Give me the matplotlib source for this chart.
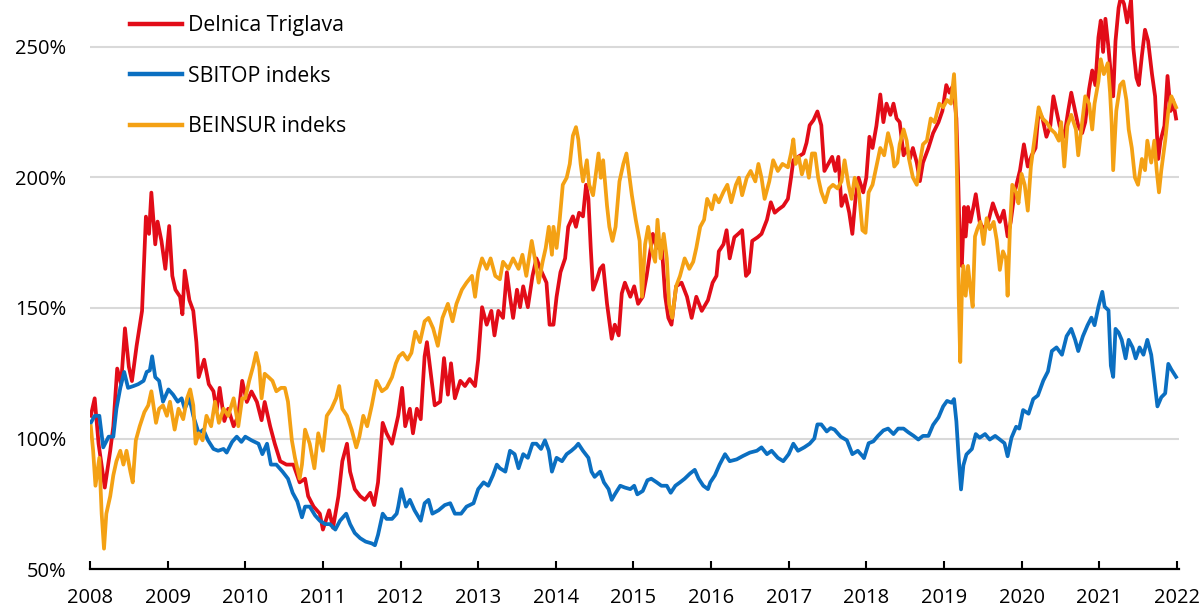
import matplotlib
matplotlib.use("Agg")
import matplotlib.pyplot as plt

plt.rcParams['font.family'] = ['Open Sans', 'DejaVu Sans']

# ---- data (index, 2008 = 100%) ----
labels = ['Delnica Triglava', 'SBITOP indeks', 'BEINSUR indeks']
colors = ['#e20c18', '#0b6fc1', '#f4a114']

red_t = [2008.01, 2008.06, 2008.11, 2008.19, 2008.26, 2008.30, 2008.35, 2008.40, 2008.45, 2008.50,
         2008.54, 2008.60, 2008.67, 2008.72, 2008.76, 2008.79, 2008.84, 2008.87, 2008.92, 2008.97,
         2009.02, 2009.06, 2009.10, 2009.16, 2009.19, 2009.22, 2009.28, 2009.33, 2009.37, 2009.40,
         2009.47, 2009.53, 2009.59, 2009.63, 2009.67, 2009.73, 2009.78, 2009.85, 2009.91, 2009.96,
         2010.02, 2010.08, 2010.15, 2010.21, 2010.25, 2010.32, 2010.38, 2010.45, 2010.53, 2010.62,
         2010.70, 2010.77, 2010.81, 2010.88, 2010.96, 2011.00, 2011.08, 2011.13, 2011.20, 2011.25,
         2011.31, 2011.35, 2011.41, 2011.48, 2011.54, 2011.61, 2011.66, 2011.71, 2011.77, 2011.82,
         2011.89, 2011.95, 2011.97, 2012.02, 2012.06, 2012.12, 2012.16, 2012.21, 2012.26, 2012.31,
         2012.34, 2012.39, 2012.44, 2012.51, 2012.56, 2012.61, 2012.65, 2012.70, 2012.77, 2012.83,
         2012.89, 2012.96, 2013.00, 2013.05, 2013.11, 2013.17, 2013.21, 2013.26, 2013.32, 2013.37,
         2013.41, 2013.45, 2013.50, 2013.54, 2013.58, 2013.64, 2013.70, 2013.75, 2013.82, 2013.88,
         2013.92, 2013.97, 2014.01, 2014.06, 2014.12, 2014.16, 2014.22, 2014.26, 2014.30, 2014.35,
         2014.39, 2014.42, 2014.45, 2014.48, 2014.53, 2014.57, 2014.61, 2014.66, 2014.72, 2014.76,
         2014.81, 2014.85, 2014.89, 2014.96, 2015.01, 2015.06, 2015.12, 2015.17, 2015.21, 2015.25,
         2015.30, 2015.36, 2015.41, 2015.45, 2015.49, 2015.55, 2015.62, 2015.69, 2015.75, 2015.81,
         2015.88, 2015.96, 2016.02, 2016.07, 2016.10, 2016.16, 2016.20, 2016.24, 2016.30, 2016.35,
         2016.40, 2016.45, 2016.49, 2016.53, 2016.60, 2016.65, 2016.72, 2016.77, 2016.82, 2016.87,
         2016.93, 2016.99, 2017.03, 2017.06, 2017.12, 2017.19, 2017.23, 2017.27, 2017.32, 2017.37,
         2017.42, 2017.46, 2017.51, 2017.56, 2017.60, 2017.64, 2017.68, 2017.73, 2017.78, 2017.82,
         2017.86, 2017.90, 2017.96, 2018.00, 2018.04, 2018.08, 2018.13, 2018.18, 2018.22, 2018.26,
         2018.31, 2018.35, 2018.39, 2018.43, 2018.48, 2018.52, 2018.56, 2018.60, 2018.65, 2018.69,
         2018.73, 2018.80, 2018.86, 2018.93, 2018.98, 2019.03, 2019.07, 2019.12, 2019.16, 2019.18,
         2019.21, 2019.23, 2019.26, 2019.28, 2019.31, 2019.34, 2019.38, 2019.41, 2019.46, 2019.51,
         2019.57, 2019.63, 2019.68, 2019.72, 2019.77, 2019.82, 2019.86, 2019.91, 2019.98, 2020.03,
         2020.08, 2020.13, 2020.18, 2020.22, 2020.27, 2020.32, 2020.37, 2020.41, 2020.45, 2020.49,
         2020.55, 2020.60, 2020.64, 2020.68, 2020.73, 2020.78, 2020.82, 2020.87, 2020.91, 2020.95,
         2020.99, 2021.02, 2021.05, 2021.08, 2021.12, 2021.15, 2021.18, 2021.21, 2021.25, 2021.28,
         2021.32, 2021.36, 2021.41, 2021.44, 2021.48, 2021.51, 2021.55, 2021.59, 2021.63, 2021.68,
         2021.72, 2021.76, 2021.79, 2021.84, 2021.88, 2021.92, 2021.95, 2021.99]
red_v = [108.7, 115.4, 98.0, 81.2, 95.3, 104.7, 126.8, 120.8, 142.2, 127.5,
         122.0, 135.5, 148.9, 185.0, 178.4, 194.2, 174.4, 183.1, 175.7, 165.0,
         181.4, 162.3, 157.0, 154.3, 147.6, 164.3, 153.0, 148.9, 136.9, 123.5,
         130.2, 120.8, 118.1, 110.7, 119.4, 106.7, 111.4, 104.7, 108.7, 122.1,
         114.0, 118.0, 114.0, 107.0, 114.0, 104.7, 98.0, 91.3, 90.0, 90.0,
         83.2, 84.6, 77.9, 73.9, 71.2, 65.1, 72.5, 65.8, 77.9, 91.3,
         98.0, 87.3, 80.6, 77.9, 76.5, 79.2, 74.5, 83.2, 106.0, 102.0,
         98.0, 106.0, 108.7, 119.4, 104.7, 111.4, 102.0, 111.4, 107.4, 131.5,
         136.9, 124.8, 112.7, 114.1, 130.8, 116.8, 128.8, 115.4, 122.1, 120.1,
         122.8, 120.1, 130.2, 150.3, 143.6, 148.9, 139.5, 148.9, 146.2, 163.7,
         154.3, 146.2, 157.0, 150.3, 158.3, 150.3, 162.3, 169.0, 163.7, 159.7,
         143.6, 143.6, 154.3, 163.7, 169.0, 181.1, 185.1, 181.1, 186.5, 185.1,
         197.2, 191.8, 173.0, 157.0, 161.0, 165.0, 166.4, 151.6, 138.2, 143.6,
         139.5, 155.6, 159.7, 154.3, 158.3, 151.6, 154.3, 162.3, 170.4, 178.4,
         173.0, 175.7, 154.3, 146.2, 143.6, 158.3, 159.7, 154.3, 146.2, 154.3,
         148.9, 153.0, 159.7, 162.3, 171.7, 174.4, 179.8, 169.0, 177.1, 178.4,
         179.8, 162.3, 163.7, 175.7, 177.1, 178.4, 183.8, 190.5, 186.5, 187.8,
         189.1, 191.8, 199.9, 206.6, 207.9, 209.2, 213.3, 220.0, 222.0, 225.3,
         220.0, 202.5, 205.2, 207.9, 202.5, 207.9, 189.1, 193.2, 186.5, 178.4,
         191.8, 199.9, 194.3, 200.0, 215.6, 211.3, 219.8, 231.8, 221.2, 228.3,
         224.0, 228.3, 222.6, 221.2, 208.5, 211.3, 207.1, 211.3, 205.7, 198.6,
         205.7, 211.3, 217.0, 221.2, 225.5, 235.4, 232.5, 235.4, 222.6, 202.8,
         168.9, 166.1, 188.7, 177.4, 188.7, 183.0, 188.7, 193.6, 183.0, 180.2,
         183.0, 190.1, 185.9, 183.0, 187.3, 177.4, 183.0, 194.3, 202.8, 212.7,
         204.2, 208.5, 211.3, 225.5, 222.6, 215.6, 219.8, 231.1, 225.5, 219.8,
         215.6, 225.5, 232.5, 226.9, 219.8, 217.0, 221.2, 233.9, 241.0, 235.4,
         253.7, 260.1, 248.1, 260.8, 249.5, 239.6, 231.1, 252.3, 265.0, 269.3,
         266.5, 259.4, 268.0, 249.5, 238.2, 235.4, 246.7, 256.6, 252.3, 239.6,
         231.1, 207.1, 214.1, 219.8, 238.9, 225.5, 229.7, 222.6]

blue_t = [2008.01, 2008.06, 2008.12, 2008.17, 2008.24, 2008.30, 2008.34, 2008.39, 2008.44, 2008.49,
          2008.56, 2008.62, 2008.69, 2008.73, 2008.77, 2008.80, 2008.84, 2008.89, 2008.94, 2009.01,
          2009.07, 2009.13, 2009.18, 2009.22, 2009.28, 2009.33, 2009.40, 2009.46, 2009.52, 2009.59,
          2009.65, 2009.72, 2009.76, 2009.83, 2009.89, 2009.95, 2010.00, 2010.08, 2010.17, 2010.22,
          2010.28, 2010.33, 2010.40, 2010.48, 2010.55, 2010.61, 2010.67, 2010.73, 2010.77, 2010.83,
          2010.90, 2010.96, 2011.03, 2011.09, 2011.16, 2011.22, 2011.30, 2011.35, 2011.41, 2011.48,
          2011.55, 2011.63, 2011.67, 2011.71, 2011.77, 2011.82, 2011.89, 2011.95, 2011.97, 2012.01,
          2012.07, 2012.12, 2012.18, 2012.26, 2012.31, 2012.36, 2012.41, 2012.49, 2012.57, 2012.64,
          2012.70, 2012.78, 2012.85, 2012.94, 2013.00, 2013.07, 2013.13, 2013.19, 2013.24, 2013.28,
          2013.35, 2013.41, 2013.47, 2013.52, 2013.58, 2013.64, 2013.70, 2013.75, 2013.81, 2013.86,
          2013.91, 2013.95, 2014.01, 2014.08, 2014.14, 2014.20, 2014.25, 2014.29, 2014.35, 2014.42,
          2014.46, 2014.50, 2014.57, 2014.62, 2014.68, 2014.72, 2014.76, 2014.83, 2014.89, 2014.96,
          2015.01, 2015.05, 2015.12, 2015.18, 2015.23, 2015.30, 2015.36, 2015.43, 2015.48, 2015.54,
          2015.60, 2015.66, 2015.73, 2015.79, 2015.84, 2015.90, 2015.96, 2015.99, 2016.05, 2016.11,
          2016.18, 2016.24, 2016.33, 2016.41, 2016.50, 2016.59, 2016.65, 2016.72, 2016.78, 2016.86,
          2016.93, 2017.00, 2017.06, 2017.12, 2017.20, 2017.27, 2017.33, 2017.37, 2017.42, 2017.49,
          2017.54, 2017.59, 2017.67, 2017.75, 2017.82, 2017.89, 2017.95, 2017.97, 2018.03, 2018.09,
          2018.15, 2018.22, 2018.28, 2018.35, 2018.41, 2018.48, 2018.54, 2018.61, 2018.67, 2018.73,
          2018.80, 2018.86, 2018.93, 2018.99, 2019.04, 2019.10, 2019.13, 2019.16, 2019.19, 2019.22,
          2019.25, 2019.29, 2019.36, 2019.41, 2019.46, 2019.53, 2019.59, 2019.66, 2019.72, 2019.78,
          2019.82, 2019.87, 2019.93, 2019.97, 2020.02, 2020.09, 2020.15, 2020.21, 2020.28, 2020.34,
          2020.39, 2020.45, 2020.52, 2020.58, 2020.64, 2020.69, 2020.73, 2020.79, 2020.85, 2020.90,
          2020.94, 2020.99, 2021.04, 2021.07, 2021.12, 2021.15, 2021.18, 2021.21, 2021.25, 2021.29,
          2021.34, 2021.38, 2021.43, 2021.47, 2021.52, 2021.57, 2021.62, 2021.67, 2021.70, 2021.75,
          2021.80, 2021.85, 2021.89, 2021.93, 2021.99]
blue_v = [106.0, 108.7, 108.7, 96.6, 100.7, 100.7, 111.4, 119.4, 125.5, 119.4,
          120.1, 120.8, 122.1, 125.5, 126.1, 131.5, 123.5, 122.1, 114.1, 118.8,
          116.8, 114.1, 115.4, 111.4, 115.4, 108.7, 102.0, 103.4, 99.3, 96.0,
          95.3, 96.0, 94.6, 98.7, 100.7, 98.7, 100.7, 99.3, 98.0, 94.0,
          98.0, 90.0, 90.0, 87.3, 84.6, 79.2, 75.9, 69.8, 73.9, 73.9,
          70.5, 68.5, 67.2, 67.2, 65.1, 68.5, 71.2, 67.2, 63.8, 61.8,
          60.5, 59.8, 59.1, 63.1, 71.2, 69.2, 69.2, 71.2, 73.9, 80.6,
          73.9, 76.5, 72.5, 68.5, 75.2, 76.5, 71.2, 72.5, 74.5, 75.2,
          71.2, 71.2, 73.9, 75.2, 80.6, 83.2, 81.9, 85.9, 90.0, 88.6,
          87.3, 95.3, 94.0, 88.6, 94.0, 92.6, 98.0, 98.0, 96.0, 99.3,
          95.3, 87.3, 92.6, 91.3, 94.0, 95.3, 96.6, 98.0, 95.3, 92.6,
          87.3, 85.3, 87.3, 83.2, 80.6, 76.5, 78.6, 81.9, 81.2, 80.6,
          81.9, 78.6, 79.9, 84.0, 84.6, 83.2, 81.9, 81.9, 79.2, 81.9,
          83.2, 84.6, 86.6, 88.0, 84.6, 81.9, 80.6, 83.2, 85.9, 90.0,
          94.0, 91.3, 92.0, 93.3, 94.6, 95.3, 96.6, 94.0, 95.3, 92.6,
          91.3, 94.0, 98.0, 95.3, 96.6, 98.0, 100.0, 105.4, 105.4, 102.7,
          104.0, 103.4, 100.7, 99.3, 94.0, 95.3, 93.3, 92.5, 98.2, 98.9,
          101.0, 103.1, 103.8, 101.7, 103.8, 103.8, 102.4, 101.0, 99.6, 101.0,
          101.0, 105.2, 108.1, 112.3, 114.4, 113.7, 115.1, 106.6, 92.5, 80.5,
          89.7, 93.9, 96.0, 101.7, 100.3, 101.7, 99.6, 101.0, 99.6, 98.2,
          93.2, 100.3, 104.5, 103.8, 110.9, 109.5, 115.1, 116.5, 122.2, 125.7,
          133.5, 134.9, 132.1, 139.2, 142.0, 137.8, 133.5, 139.2, 143.4, 146.3,
          143.4, 150.5, 156.2, 150.5, 149.1, 127.9, 123.6, 142.0, 140.6, 137.8,
          130.7, 137.8, 134.9, 130.7, 134.9, 132.1, 137.8, 132.1, 125.0, 112.3,
          115.8, 117.3, 128.6, 126.4, 123.6]

orange_t = [2008.01, 2008.04, 2008.07, 2008.12, 2008.15, 2008.18, 2008.21, 2008.26, 2008.30, 2008.34,
            2008.39, 2008.43, 2008.47, 2008.52, 2008.55, 2008.59, 2008.64, 2008.70, 2008.75, 2008.79,
            2008.85, 2008.89, 2008.94, 2008.99, 2009.03, 2009.09, 2009.14, 2009.20, 2009.25, 2009.29,
            2009.33, 2009.36, 2009.40, 2009.45, 2009.50, 2009.56, 2009.61, 2009.66, 2009.72, 2009.78,
            2009.85, 2009.91, 2009.96, 2010.00, 2010.05, 2010.10, 2010.14, 2010.18, 2010.21, 2010.25,
            2010.30, 2010.35, 2010.40, 2010.46, 2010.51, 2010.55, 2010.60, 2010.64, 2010.70, 2010.73,
            2010.77, 2010.83, 2010.89, 2010.94, 2011.00, 2011.05, 2011.11, 2011.17, 2011.21, 2011.25,
            2011.31, 2011.37, 2011.43, 2011.47, 2011.52, 2011.57, 2011.63, 2011.69, 2011.76, 2011.82,
            2011.89, 2011.94, 2011.98, 2012.03, 2012.09, 2012.14, 2012.19, 2012.25, 2012.31, 2012.36,
            2012.42, 2012.48, 2012.54, 2012.61, 2012.67, 2012.72, 2012.79, 2012.85, 2012.92, 2012.96,
            2013.00, 2013.05, 2013.11, 2013.16, 2013.22, 2013.28, 2013.32, 2013.39, 2013.45, 2013.52,
            2013.57, 2013.62, 2013.69, 2013.73, 2013.78, 2013.83, 2013.87, 2013.91, 2013.95, 2013.97,
            2014.01, 2014.05, 2014.09, 2014.14, 2014.18, 2014.22, 2014.26, 2014.29, 2014.32, 2014.35,
            2014.40, 2014.43, 2014.48, 2014.52, 2014.55, 2014.58, 2014.61, 2014.66, 2014.69, 2014.73,
            2014.77, 2014.82, 2014.87, 2014.91, 2014.95, 2014.98, 2015.03, 2015.08, 2015.11, 2015.15,
            2015.19, 2015.23, 2015.28, 2015.31, 2015.35, 2015.39, 2015.43, 2015.46, 2015.50, 2015.55,
            2015.60, 2015.66, 2015.72, 2015.77, 2015.81, 2015.86, 2015.91, 2015.95, 2016.01, 2016.05,
            2016.10, 2016.16, 2016.21, 2016.26, 2016.32, 2016.36, 2016.40, 2016.46, 2016.51, 2016.57,
            2016.61, 2016.65, 2016.69, 2016.75, 2016.80, 2016.86, 2016.92, 2016.99, 2017.03, 2017.06,
            2017.09, 2017.13, 2017.17, 2017.22, 2017.26, 2017.30, 2017.34, 2017.38, 2017.42, 2017.47,
            2017.52, 2017.57, 2017.63, 2017.68, 2017.72, 2017.77, 2017.81, 2017.85, 2017.90, 2017.95,
            2017.99, 2018.03, 2018.08, 2018.13, 2018.18, 2018.23, 2018.28, 2018.33, 2018.36, 2018.40,
            2018.43, 2018.48, 2018.52, 2018.55, 2018.60, 2018.65, 2018.69, 2018.73, 2018.78, 2018.83,
            2018.88, 2018.94, 2018.99, 2019.04, 2019.09, 2019.13, 2019.15, 2019.17, 2019.19, 2019.21,
            2019.23, 2019.25, 2019.28, 2019.31, 2019.34, 2019.37, 2019.40, 2019.43, 2019.47, 2019.51,
            2019.55, 2019.59, 2019.64, 2019.68, 2019.72, 2019.76, 2019.80, 2019.82, 2019.85, 2019.88,
            2019.93, 2019.96, 2020.00, 2020.04, 2020.08, 2020.12, 2020.17, 2020.22, 2020.27, 2020.32,
            2020.38, 2020.43, 2020.48, 2020.51, 2020.55, 2020.59, 2020.64, 2020.70, 2020.73, 2020.77,
            2020.82, 2020.87, 2020.91, 2020.94, 2020.99, 2021.02, 2021.06, 2021.11, 2021.14, 2021.16,
            2021.18, 2021.22, 2021.27, 2021.31, 2021.35, 2021.38, 2021.42, 2021.46, 2021.50, 2021.55,
            2021.59, 2021.62, 2021.67, 2021.71, 2021.74, 2021.77, 2021.80, 2021.85, 2021.89, 2021.93,
            2021.97, 2021.99]
orange_v = [104.7, 95.3, 81.9, 92.6, 71.2, 57.8, 71.2, 77.9, 85.9, 91.3,
            95.3, 90.0, 95.3, 87.3, 83.2, 99.3, 104.7, 110.1, 112.7, 118.1,
            106.0, 111.4, 112.7, 108.7, 114.1, 103.4, 111.4, 107.4, 115.4, 118.8,
            112.7, 98.0, 102.0, 99.3, 108.7, 104.7, 114.1, 106.0, 111.4, 108.7,
            115.4, 104.7, 115.4, 115.4, 122.1, 127.5, 132.8, 127.5, 115.4, 124.8,
            123.5, 122.1, 118.1, 119.4, 119.4, 114.1, 99.3, 92.6, 84.6, 90.0,
            103.4, 98.0, 88.6, 102.0, 95.3, 108.7, 111.4, 115.4, 120.1, 111.4,
            108.7, 103.4, 96.6, 100.7, 108.7, 104.7, 112.7, 122.1, 118.1, 119.4,
            123.5, 128.8, 131.5, 132.8, 130.2, 132.8, 140.9, 136.9, 144.9, 146.2,
            142.2, 135.5, 146.2, 151.6, 144.9, 151.6, 157.0, 159.7, 162.3, 154.3,
            163.7, 169.0, 165.0, 169.0, 162.3, 161.0, 167.7, 165.0, 169.0, 165.0,
            170.4, 162.3, 175.7, 169.0, 159.7, 167.7, 173.0, 181.1, 170.4, 181.1,
            173.0, 183.8, 197.2, 199.9, 205.2, 216.0, 219.3, 214.6, 205.2, 198.5,
            206.6, 197.2, 193.2, 202.5, 209.2, 199.9, 206.6, 189.1, 181.1, 175.7,
            181.1, 198.5, 205.2, 209.2, 199.9, 193.2, 183.8, 175.7, 154.3, 174.4,
            181.1, 173.0, 167.7, 183.8, 169.0, 178.4, 169.0, 151.6, 146.2, 158.3,
            162.3, 169.0, 165.0, 167.7, 173.0, 181.1, 183.8, 191.8, 187.8, 193.2,
            190.5, 194.5, 197.2, 190.5, 197.2, 199.9, 193.2, 199.9, 202.5, 198.5,
            205.2, 199.9, 191.8, 198.5, 206.6, 202.5, 205.2, 203.9, 209.2, 214.6,
            205.2, 207.9, 201.2, 206.6, 199.9, 209.2, 209.2, 199.9, 194.5, 190.5,
            195.8, 197.2, 195.8, 198.5, 206.6, 197.2, 191.8, 199.9, 195.8, 179.8,
            178.8, 194.3, 197.2, 204.2, 211.3, 208.5, 217.0, 211.3, 204.2, 205.7,
            212.7, 218.4, 214.1, 207.1, 200.0, 197.2, 205.7, 212.7, 214.1, 222.6,
            221.2, 228.3, 226.9, 229.7, 228.3, 239.6, 228.3, 197.2, 154.7, 129.3,
            154.7, 166.1, 154.7, 166.1, 157.6, 150.5, 177.4, 180.2, 183.0, 174.5,
            184.4, 180.2, 183.0, 176.0, 164.6, 171.7, 168.9, 154.7, 180.2, 197.2,
            194.3, 190.1, 201.4, 197.2, 187.3, 204.2, 215.6, 226.9, 222.6, 221.2,
            218.4, 217.0, 214.1, 221.2, 204.2, 219.8, 224.0, 218.4, 208.5, 218.4,
            231.1, 228.3, 218.4, 228.3, 236.8, 245.3, 239.6, 243.8, 232.5, 221.2,
            202.8, 225.5, 235.4, 236.8, 229.7, 218.4, 211.3, 200.0, 197.2, 207.1,
            202.8, 214.1, 205.7, 214.1, 202.8, 194.3, 202.8, 214.1, 225.5, 231.1,
            228.3, 226.9]

year_ticks = list(range(2008, 2023))
pct_ticks = [50, 100, 150, 200, 250]

# ---- figure ----
fig = plt.figure(figsize=(12.02, 6.10), dpi=100)
ax = fig.add_axes([0.0749, 0.0672, 0.9061, 0.9328])

series = [(red_t, red_v), (blue_t, blue_v), (orange_t, orange_v)]
for (t, v), lab, col in zip(series, labels, colors):
    ax.plot(t, v, color=col, lw=2.7, label=lab, solid_joinstyle='round')

ax.set_xlim(2008, 2022.03)
ax.set_ylim(50, 268)
ax.set_xticks(year_ticks)
ax.set_xticklabels([str(y) for y in year_ticks])
ax.set_yticks(pct_ticks)
ax.set_yticklabels([f"{p}%" for p in pct_ticks])

ax.yaxis.grid(True, color='#d9d9d9', lw=1.5)
ax.set_axisbelow(True)
for s in ['top', 'right', 'left']:
    ax.spines[s].set_visible(False)
ax.spines['bottom'].set_color('black')
ax.spines['bottom'].set_linewidth(1.6)

ax.tick_params(axis='x', direction='in', length=6, width=1.5, color='black',
               labelsize=14.5, pad=14)
ax.tick_params(axis='y', length=0, labelsize=14.5, pad=17)

leg = ax.legend(loc='upper left', bbox_to_anchor=(130 / 1202, 1 - 15 / 610),
                bbox_transform=fig.transFigure, frameon=False, fontsize=15.3,
                handlelength=2.45, handletextpad=0.28, labelspacing=1.39,
                borderpad=0, borderaxespad=0)
for line in leg.get_lines():
    line.set_linewidth(3.2)

fig.savefig('out.png', dpi=100, facecolor='white')
